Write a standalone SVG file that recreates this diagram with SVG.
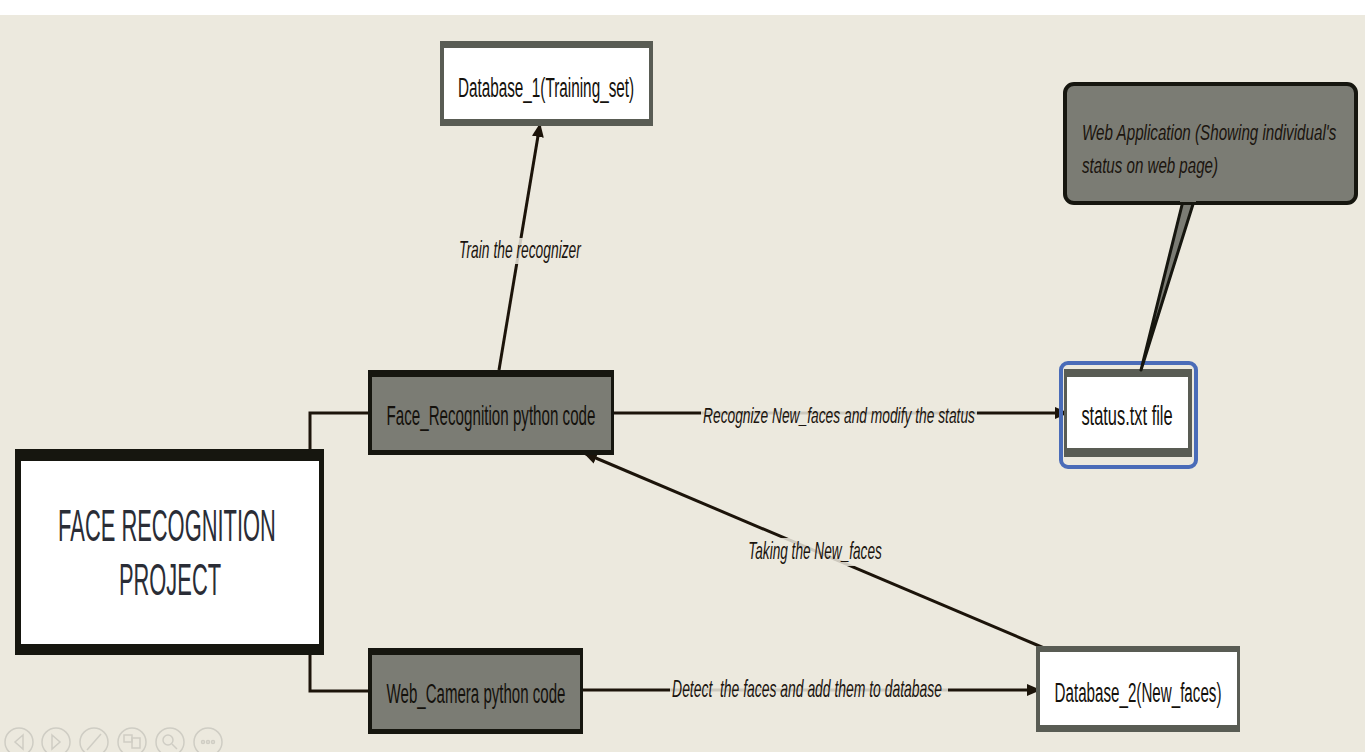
<svg xmlns="http://www.w3.org/2000/svg" width="1365" height="752" viewBox="0 0 1365 752">
<defs>
<style>
.bg{fill:#ECE9DE}
.dark{fill:#16160f}
.gray{fill:#7B7C74}
.white{fill:#FFFFFF}
.gborder{fill:#595c54}
.nl{font-family:"Liberation Sans",Arial,sans-serif;font-size:28px;fill:#14110c;text-anchor:middle}
.el{font-family:"Liberation Sans",Arial,sans-serif;font-size:23px;font-style:italic;fill:#1a140e;text-anchor:middle}
.big{font-family:"Liberation Sans",Arial,sans-serif;font-size:45px;fill:#2a2d36;text-anchor:middle}
.con{stroke:#1c140a;stroke-width:3;fill:none}
.gap{fill:#ECE9DE;opacity:0.85}
.nav{fill:none;stroke:#cfcdc4;stroke-width:1.5}
</style>
<marker id="arr" markerWidth="14" markerHeight="12" refX="13" refY="6" orient="auto" markerUnits="userSpaceOnUse">
<path d="M0,0 L14,6 L0,12 Z" fill="#1c140a"/>
</marker>
</defs>
<rect x="0" y="0" width="1365" height="752" fill="#FFFFFF"/>
<rect class="bg" x="0" y="15" width="1365" height="737"/>

<g id="connectors">
<line class="con" x1="499" y1="370" x2="540" y2="124" marker-end="url(#arr)"/>
<line class="con" x1="614" y1="413" x2="1068" y2="413" marker-end="url(#arr)"/>
<line class="con" x1="1044" y1="648" x2="584" y2="453" marker-end="url(#arr)" stroke-width="3.5"/>
<line class="con" x1="583" y1="690" x2="1040" y2="690" marker-end="url(#arr)"/>
<polyline class="con" points="310,450 310,413 369,413"/>
<polyline class="con" points="310,655 310,691 369,691"/>
<rect class="gap" x="456" y="238" width="128" height="26"/>
<text class="el" transform="translate(520,258) scale(0.597,1)" textLength="204" lengthAdjust="spacingAndGlyphs">Train the recognizer</text>
<rect class="gap" x="701" y="402" width="276" height="26"/>
<text class="el" transform="translate(839,423) scale(0.599,1)" textLength="454" lengthAdjust="spacingAndGlyphs">Recognize New_faces and modify the status</text>
<rect class="gap" x="746" y="538" width="138" height="28"/>
<text class="el" transform="translate(815,559) scale(0.589,1)" textLength="227" lengthAdjust="spacingAndGlyphs">Taking the New_faces</text>
<rect class="gap" x="670" y="678" width="278" height="26"/>
<text class="el" transform="translate(807,697) scale(0.605,1)" textLength="446" lengthAdjust="spacingAndGlyphs" xml:space="preserve">Detect  the faces and add them to database</text>
</g>

<g id="database1">
<rect class="gborder" x="440" y="41" width="213" height="85"/>
<rect class="white" x="444" y="48" width="205" height="71"/>
<text class="nl" transform="translate(546,97) scale(0.544,1)" textLength="324" lengthAdjust="spacingAndGlyphs">Database_1(Training_set)</text>
</g>

<g id="face-recognition-code">
<rect class="dark" x="368" y="370" width="246" height="85"/>
<rect class="gray" x="372" y="377" width="239" height="73"/>
<text class="nl" transform="translate(491,425) scale(0.541,1)" textLength="386" lengthAdjust="spacingAndGlyphs">Face_Recognition python code</text>
</g>

<g id="project">
<rect class="dark" x="15" y="449" width="309" height="206"/>
<rect class="white" x="21" y="461" width="298" height="183"/>
<text class="big" transform="translate(167,541) scale(0.484,1)" textLength="450" lengthAdjust="spacingAndGlyphs">FACE RECOGNITION</text>
<text class="big" transform="translate(170,595) scale(0.486,1)" textLength="210" lengthAdjust="spacingAndGlyphs">PROJECT</text>
</g>

<g id="web-camera-code">
<rect class="dark" x="368" y="648" width="215" height="86"/>
<rect class="gray" x="372" y="655" width="208" height="74"/>
<text class="nl" transform="translate(476,703) scale(0.537,1)" textLength="333" lengthAdjust="spacingAndGlyphs">Web_Camera python code</text>
</g>

<g id="database2">
<rect class="gborder" x="1036" y="646" width="204" height="86"/>
<rect class="white" x="1040" y="652" width="197" height="73"/>
<text class="nl" transform="translate(1138,702) scale(0.542,1)" textLength="308" lengthAdjust="spacingAndGlyphs">Database_2(New_faces)</text>
</g>

<g id="status-file">
<rect x="1061" y="363" width="135" height="104" rx="7" fill="none" stroke="#4a6cb8" stroke-width="4"/>
<rect class="gborder" x="1064" y="369" width="128" height="88"/>
<rect class="white" x="1067" y="377" width="121" height="71"/>
<text class="nl" transform="translate(1127,425) scale(0.585,1)" textLength="156" lengthAdjust="spacingAndGlyphs">status.txt file</text>
</g>

<g id="web-application">
<path d="M1183,201 L1141,370 L1194,201 Z" fill="#7B7C74" stroke="#16160f" stroke-width="3" stroke-linejoin="round"/>
<rect x="1065" y="84" width="291" height="119" rx="9" fill="#7B7C74" stroke="#16160f" stroke-width="4"/>
<rect x="1180" y="198" width="16" height="4" fill="#7B7C74"/>
<text class="el" transform="translate(1082,140) scale(0.657,1)" textLength="387" lengthAdjust="spacingAndGlyphs" style="text-anchor:start">Web Application (Showing individual's</text>
<text class="el" transform="translate(1082,173) scale(0.657,1)" textLength="207" lengthAdjust="spacingAndGlyphs" style="text-anchor:start">status on web page)</text>
</g>

<g id="nav-controls">
<circle class="nav" cx="19" cy="742" r="14"/>
<path class="nav" d="M23,735 L15,742 L23,749 Z"/>
<circle class="nav" cx="56" cy="742" r="14"/>
<path class="nav" d="M52,735 L60,742 L52,749 Z"/>
<circle class="nav" cx="94" cy="742" r="14"/>
<path class="nav" d="M87,750 L101,734"/>
<circle class="nav" cx="132" cy="742" r="14"/>
<rect class="nav" x="124" y="735" width="8" height="7"/>
<rect class="nav" x="132" y="738" width="8" height="10"/>
<circle class="nav" cx="170" cy="742" r="14"/>
<circle class="nav" cx="168" cy="740" r="5"/>
<path class="nav" d="M172,744 L177,749"/>
<circle class="nav" cx="208" cy="742" r="14"/>
<circle class="nav" cx="203" cy="742" r="1.5"/>
<circle class="nav" cx="208" cy="742" r="1.5"/>
<circle class="nav" cx="213" cy="742" r="1.5"/>
</g>
</svg>
